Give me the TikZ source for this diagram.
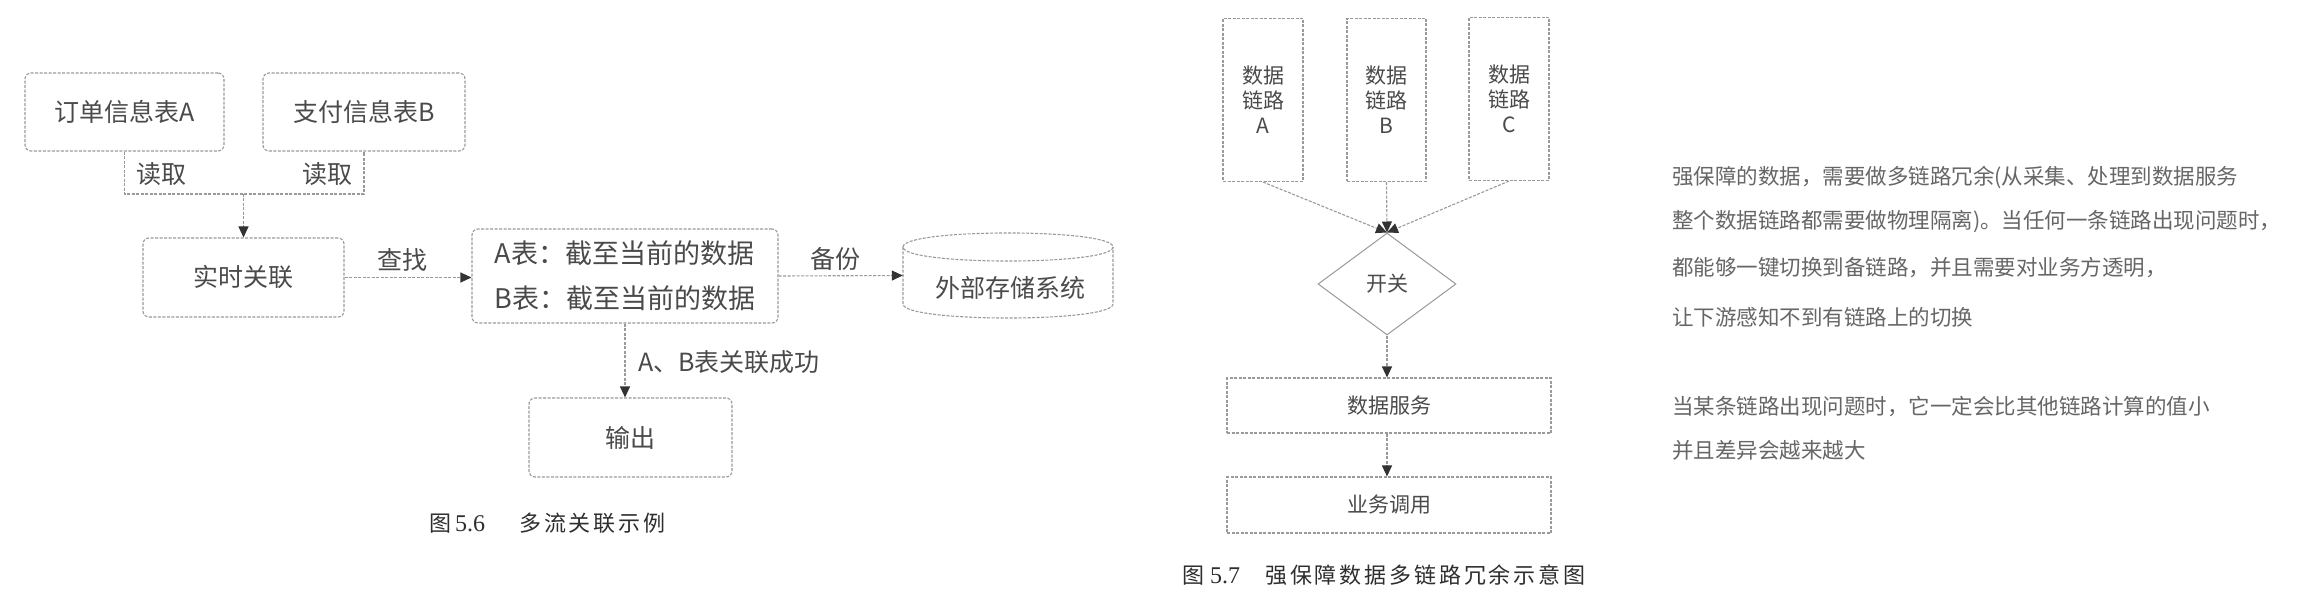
\documentclass[tikz,border=0pt]{standalone}
\usepackage{fontspec}
\setmainfont{Noto Sans CJK SC}
\newfontfamily\capfont[LetterSpace=13]{Noto Sans CJK SC}
\newfontfamily\numfont{Liberation Serif}
\usetikzlibrary{arrows.meta,shapes.geometric}
\definecolor{lineg}{HTML}{9A9A9A}
\definecolor{txt}{HTML}{4A4A4A}
\definecolor{arrc}{HTML}{333333}
\definecolor{sidec}{HTML}{666666}
\definecolor{capc}{HTML}{2E2E2E}
\newcommand{\myfs}[2]{\fontsize{#1pt}{#2pt}\selectfont}
\begin{document}
\begin{tikzpicture}[x=1pt,y=-1pt,
  dsh/.style={draw=lineg, line width=1.1pt, dash pattern=on 3pt off 1.5pt},
  rbox/.style={dsh, rounded corners=6pt, text=txt, inner sep=0pt, font=\myfs{25}{30}},
  sbox/.style={dsh, text=txt, inner sep=0pt, font=\myfs{21}{25}, align=center},
  arrowed/.style={-{Triangle[length=11pt,width=10pt,color=arrc]}},
  lbl/.style={text=txt, inner sep=0pt, font=\myfs{25}{30}},
  sidetxt/.style={text=sidec, anchor=west, inner sep=0pt, font=\myfs{21.5}{26}},
  captxt/.style={text=capc, anchor=west, inner sep=0pt, font=\capfont\myfs{22}{26}}
]
\useasboundingbox[fill=white] (0,0) rectangle (2316,604);

% ---------- figure 5.6 ----------
\node[rbox, minimum width=199pt, minimum height=78pt] (ta) at (124.5,112) {订单信息表A};
\node[rbox, minimum width=202pt, minimum height=78pt] (tb) at (364,112) {支付信息表B};
\node[rbox, minimum width=201pt, minimum height=79pt] (rt) at (243.5,277.5) {实时关联};
\node[rbox, minimum width=306pt, minimum height=94pt, align=left, font=\myfs{27}{45}] (data) at (625,276)
  {A表：截至当前的数据\\B表：截至当前的数据};
\node[rbox, minimum width=203pt, minimum height=79pt] (out) at (630.5,437.5) {输出};
\node[inner sep=0pt, minimum width=210pt, minimum height=85pt] (ext) at (1008,275.5) {};
\draw[dsh] (903,247) -- (903,304) .. controls (903,322.7) and (1113,322.7) .. (1113,304) -- (1113,247);
\draw[dsh] (903,247) .. controls (903,228.3) and (1113,228.3) .. (1113,247)
  .. controls (1113,265.7) and (903,265.7) .. (903,247);
\node[lbl] (extl) at (1010,288) {外部存储系统};

\coordinate (jn) at (243.5,194);
\draw[dsh] (ta.south) |- (jn) -| (tb.south);
\draw[dsh, arrowed] (jn) -- (rt.north);
\node[lbl] (rd1) at (161,174) {读取};
\node[lbl] (rd2) at (327,174) {读取};

\draw[dsh, arrowed] (rt.east) -- (rt.east -| data.west);
\node[lbl] (cz) at (402,260) {查找};
\draw[dsh, arrowed] (data.east) -- (ext.west);
\node[lbl] (bf) at (835,259) {备份};
\draw[dsh, arrowed] (data.south) -- (data.south |- out.north);
\node[lbl, anchor=west] (gl) at (638,362) {A、B表关联成功};

\node[captxt] (cap56) at (429,523) {图\hspace{4pt}{\numfont\myfs{24}{26}5.6}\hspace{34pt}多流关联示例};

% ---------- figure 5.7 ----------
\node[sbox, minimum width=80pt, minimum height=163pt] (la) at (1263,100) {数据\\链路\\A};
\node[sbox, minimum width=79pt, minimum height=163pt] (lb) at (1386.5,100) {数据\\链路\\B};
\node[sbox, minimum width=80pt, minimum height=163pt] (lc) at (1509,99) {数据\\链路\\C};
\node[diamond, draw=lineg, line width=1pt, inner sep=0pt, minimum width=138pt, minimum height=102pt,
  text=txt, font=\myfs{21}{25}] (sw) at (1387,284) {开关};
\draw[dsh, arrowed] (la.south) -- (sw.north);
\draw[dsh, arrowed] (lc.south) -- (sw.north);
\draw[dsh, arrowed] (lb.south) -- (sw.north);
\node[sbox, minimum width=324pt, minimum height=55pt] (ds) at (1389,405.5) {数据服务};
\node[sbox, minimum width=324pt, minimum height=56pt] (yw) at (1389,505) {业务调用};
\draw[dsh, arrowed] (sw.south) -- (sw.south |- ds.north);
\draw[dsh, arrowed] (ds.south -| sw.south) -- (sw.south |- yw.north);

\node[captxt] (cap57) at (1182,575) {图\hspace{6pt}{\numfont\myfs{24}{26}5.7}\hspace{25pt}强保障数据多链路冗余示意图};

% ---------- side notes ----------
\node[sidetxt] (t1) at (1672,177) {强保障的数据，需要做多链路冗余(从采集、处理到数据服务};
\node[sidetxt] (t2) at (1672,222) {整个数据链路都需要做物理隔离)。当任何一条链路出现问题时，};
\node[sidetxt] (t3) at (1672,268) {都能够一键切换到备链路，并且需要对业务方透明，};
\node[sidetxt] (t4) at (1672,317) {让下游感知不到有链路上的切换};
\node[sidetxt] (t5) at (1672,407) {当某条链路出现问题时，它一定会比其他链路计算的值小};
\node[sidetxt] (t6) at (1672,450) {并且差异会越来越大};
\end{tikzpicture}
\end{document}
